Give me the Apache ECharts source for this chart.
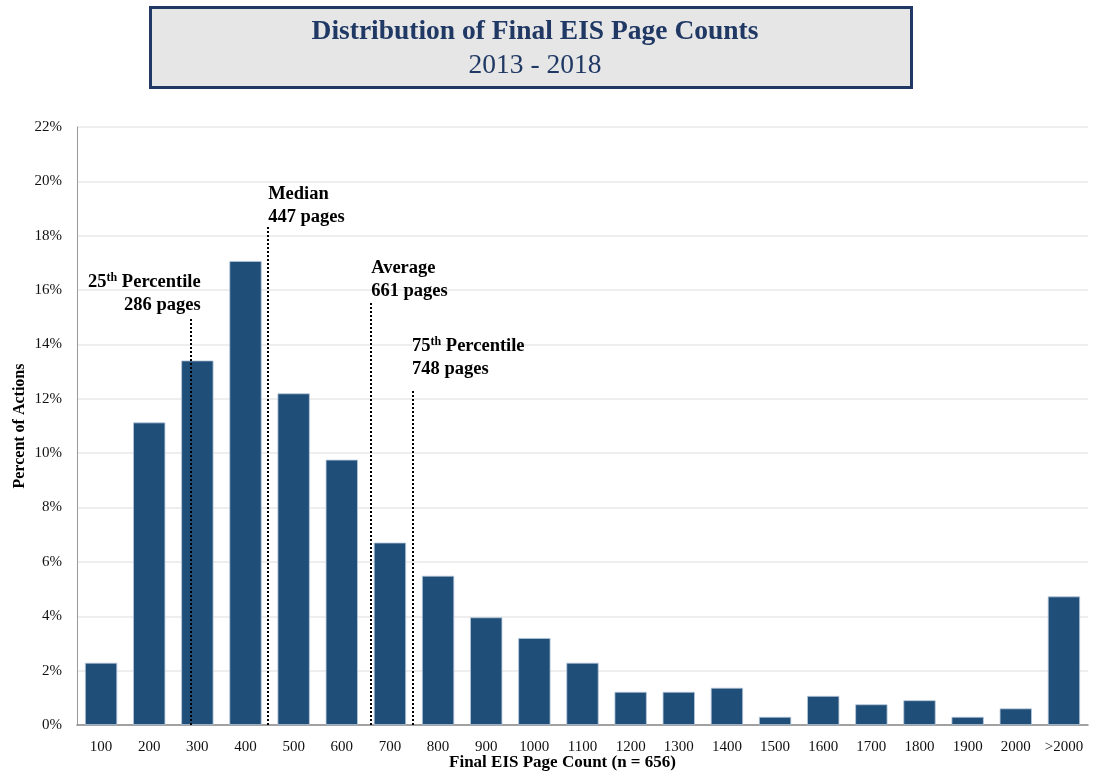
<!DOCTYPE html>
<html>
<head>
<meta charset="utf-8">
<script src="https://cdn.jsdelivr.net/npm/echarts@6/dist/echarts.min.js"></script>
<style>
	html, body { margin: 0; padding: 0; background: #fff; }
	#chart { width: 1093px; height: 776px; }
</style>
</head>
<body>
<div id="chart"></div>
<script>
// 数据
var categories = [ '100', '200', '300', '400', '500', '600', '700', '800', '900', '1000',
		'1100', '1200', '1300', '1400', '1500', '1600', '1700', '1800', '1900', '2000', '>2000' ];
var percentActions = [ 2.29, 11.13, 13.41, 17.07, 12.20, 9.76, 6.71, 5.49, 3.96, 3.20,
		2.29, 1.22, 1.22, 1.37, 0.30, 1.07, 0.76, 0.91, 0.30, 0.61, 4.73 ];
var statNames = [ '25th Percentile', 'Median', 'Average', '75th Percentile' ];
var statPages = [ 286, 447, 661, 748 ];
var statLineTops = [ 14.95, 18.35, 15.6, 12.3 ];
var yTicks = [ 0, 2, 4, 6, 8, 10, 12, 14, 16, 18, 20, 22 ];

var serif = '"Liberation Serif", "Times New Roman", serif';
var navy = '#1f3864';

function statLabel(i) {
	var name = statNames[i];
	var first;
	if (name.indexOf('th ') === 2) {
		first = '{b|' + name.substr(0, 2) + '}{sup|th}{b|' + name.substr(4) + '}';
	} else {
		first = '{b|' + name + '}';
	}
	return first + '\n{b|' + statPages[i] + ' pages}';
}

var labelRich = {
	b : {
		fontFamily : serif,
		fontWeight : 'bold',
		fontSize : 18.5,
		color : '#000',
		lineHeight : 23
	},
	sup : {
		fontFamily : serif,
		fontWeight : 'bold',
		fontSize : 12,
		color : '#000',
		lineHeight : 23,
		padding : [ 0, 0, 8, 0 ]
	}
};

// 各统计量标注的对齐与偏移
var labelAlign = [ 'right', 'left', 'left', 'left' ];
var labelOffset = [ [ 10, 0 ], [ 0, 5 ], [ 0, 4 ], [ -1, -8 ] ];

var markLineData = statPages.map(function(p, i) {
	return [ {
		coord : [ p, 0 ],
		label : {
			show : true,
			position : 'end',
			formatter : statLabel(i),
			rich : labelRich,
			align : labelAlign[i],
			verticalAlign : 'bottom',
			offset : labelOffset[i],
			distance : 2
		}
	}, {
		coord : [ p, statLineTops[i] ]
	} ];
});

var chart = echarts.init(document.getElementById('chart'));
chart.setOption({
	animation : false,
	graphic : [ {
		type : 'rect',
		left : 149,
		top : 6,
		shape : { width : 761, height : 80 },
		style : { fill : '#e7e6e6', stroke : navy, lineWidth : 3 },
		z : -1
	} ],
	title : {
		text : 'Distribution of Final EIS Page Counts',
		subtext : '2013 - 2018',
		left : 530,
		textAlign : 'center',
		top : 13,
		itemGap : 6,
		textStyle : {
			fontFamily : serif,
			fontWeight : 'bold',
			fontSize : 27.5,
			color : navy
		},
		subtextStyle : {
			fontFamily : serif,
			fontSize : 27.5,
			color : navy
		}
	},
	grid : {
		left : 77,
		right : 5,
		top : 127,
		bottom : 51,
		outerBoundsMode : 'none',
		containLabel : false
	},
	xAxis : [ {
		type : 'category',
		data : categories,
		name : 'Final EIS Page Count (n = 656)',
		nameLocation : 'middle',
		nameGap : 29,
		nameMoveOverlap : false,
		nameTextStyle : {
			fontFamily : serif,
			fontWeight : 'bold',
			fontSize : 17,
			color : '#000',
			padding : [ 0, 40, 0, 0 ]
		},
		axisLine : { lineStyle : { color : '#888', width : 1.5 } },
		axisTick : { show : false },
		axisLabel : {
			fontFamily : serif,
			fontSize : 15,
			color : '#111',
			margin : 15,
			interval : 0
		}
	}, {
		type : 'value',
		min : 50,
		max : 2150,
		show : false
	} ],
	yAxis : {
		type : 'value',
		min : 0,
		max : 22,
		interval : 2,
		name : 'Percent of Actions',
		nameLocation : 'middle',
		nameGap : 49,
		nameMoveOverlap : false,
		nameTextStyle : {
			fontFamily : serif,
			fontWeight : 'bold',
			fontSize : 16,
			color : '#000'
		},
		axisLine : { show : true, lineStyle : { color : '#999' } },
		axisTick : { show : false },
		splitLine : { lineStyle : { color : '#e8e8e8', width : 1.5 } },
		axisLabel : {
			fontFamily : serif,
			fontSize : 15,
			color : '#111',
			margin : 15,
			formatter : function(v) {
				return yTicks.indexOf(v) >= 0 ? v + '%' : '';
			}
		}
	},
	series : [ {
		type : 'bar',
		data : percentActions,
		barWidth : '67%',
		itemStyle : {
			color : '#1f4e79',
			borderColor : '#b8c8da',
			borderWidth : 0.8
		},
		z : 2
	}, {
		type : 'line',
		xAxisIndex : 1,
		data : [],
		z : 5,
		markLine : {
			silent : true,
			symbol : 'none',
			animation : false,
			lineStyle : {
				color : '#000',
				type : 'dotted',
				width : 2
			},
			data : markLineData
		}
	} ]
});
</script>
</body>
</html>
